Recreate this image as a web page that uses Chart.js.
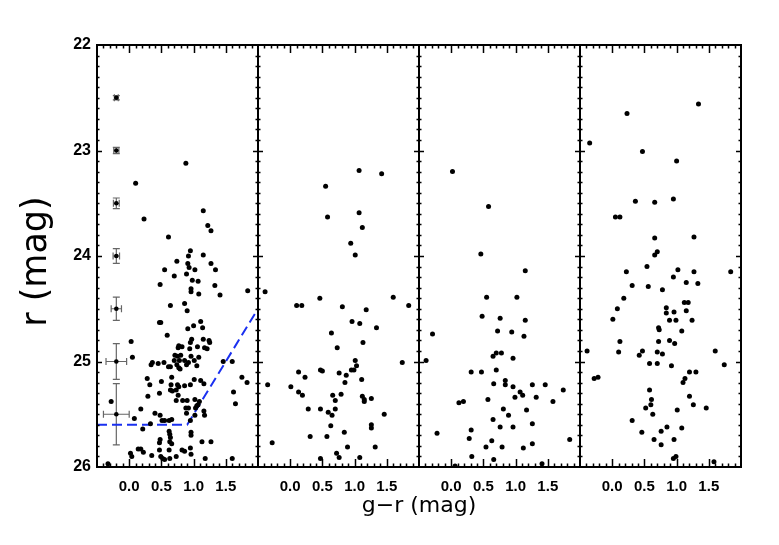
<!DOCTYPE html>
<html>
<head>
<meta charset="utf-8">
<script src="https://cdn.jsdelivr.net/npm/chart.js@4.4.1/dist/chart.umd.min.js"></script>
<style>
    body { margin: 0; background: #fff; }
    canvas { display: block; }
</style>
</head>
<body>
<canvas id="chart" width="779" height="545"></canvas>
<script>
// colour range shown in every panel, and its tick labels
const GR_MIN = -0.5
const GR_MAX = 2.0
const GR_TICKS = [0.0, 0.5, 1.0, 1.5]
const GR_TICK_LABELS = ['0.0', '0.5', '1.0', '1.5']
const R_TICKS = [22, 23, 24, 25, 26]

// panel 1
const P1_GR = [0.88,0.10,1.15,0.23,1.22,1.27,0.61,0.95,0.92,1.15,
    0.74,0.91,1.27,0.55,0.93,1.02,1.34,0.89,0.70,0.98,
    1.07,0.48,1.33,0.96,0.96,1.08,1.41,1.84,0.64,0.86,
    0.90,1.11,0.47,0.49,0.91,1.00,1.14,0.59,0.03,0.97,
    1.15,1.24,1.25,0.95,0.77,0.82,0.76,1.06,0.94,1.17,
    1.21,0.05,0.71,0.75,0.80,0.96,1.08,0.70,0.78,0.86,
    1.01,0.36,0.34,0.45,0.54,0.61,0.64,0.74,0.77,0.79,
    0.89,0.92,1.05,1.46,1.60,0.28,0.32,0.50,0.66,0.65,
    0.75,0.77,0.86,0.95,1.01,1.11,1.16,0.64,0.67,0.73,
    0.47,0.29,0.76,1.75,1.83,1.62,1.65,-0.28,0.73,0.83,
    0.90,1.02,1.09,1.07,0.88,0.92,1.03,1.05,1.16,0.18,
    0.89,1.02,1.17,0.40,0.48,0.08,0.51,0.55,0.62,0.66,
    0.95,0.33,0.21,0.62,0.96,0.96,0.63,0.64,0.48,0.47,
    0.63,0.66,1.13,1.27,0.95,0.14,0.18,0.22,0.47,0.62,
    0.82,0.86,0.02,0.04,0.35,0.49,0.73,0.96,0.63,0.52,
    0.55,1.18,1.60,-0.33]
const P1_R = [23.12,23.31,23.57,23.65,23.71,23.76,23.82,23.95,24.00,23.99,
    24.05,24.07,24.07,24.13,24.11,24.13,24.13,24.17,24.19,24.23,
    24.24,24.27,24.28,24.31,24.34,24.36,24.37,24.33,24.47,24.45,
    24.52,24.62,24.63,24.63,24.69,24.66,24.68,24.75,24.81,24.79,
    24.79,24.80,24.82,24.82,24.85,24.86,24.87,24.86,24.88,24.87,
    24.88,24.96,24.94,24.95,24.94,24.95,24.96,24.99,24.99,24.99,
    24.99,25.01,25.03,25.02,25.01,25.05,25.05,25.03,25.06,25.07,
    25.03,25.01,25.04,25.00,25.00,25.16,25.22,25.19,25.15,25.22,
    25.22,25.24,25.23,25.22,25.17,25.18,25.21,25.27,25.28,25.27,
    25.30,25.33,25.32,25.15,25.20,25.29,25.40,25.38,25.37,25.37,
    25.37,25.36,25.38,25.41,25.44,25.44,25.44,25.42,25.47,25.45,
    25.49,25.51,25.51,25.49,25.51,25.54,25.56,25.56,25.56,25.55,
    25.56,25.59,25.64,25.66,25.67,25.70,25.69,25.72,25.74,25.77,
    25.76,25.78,25.76,25.76,25.82,25.83,25.83,25.86,25.84,25.84,
    25.84,25.85,25.87,25.90,25.89,25.90,25.90,25.88,25.92,25.92,
    25.93,25.92,25.92,25.97]

// panel 2
const P2_GR = [1.07,1.42,0.55,1.07,0.58,1.12,0.94,1.01,-0.39,0.46,
    0.10,0.18,0.81,1.18,1.60,1.84,0.96,1.08,1.34,0.64,
    1.13,0.73,1.01,1.03,0.95,0.99,1.74,0.47,0.13,0.23,
    0.76,0.87,1.11,0.85,-0.35,0.01,0.13,0.19,0.66,0.79,
    0.70,1.12,1.15,1.15,1.26,0.28,0.47,0.59,0.70,0.65,
    1.46,0.63,1.26,1.26,0.84,-0.28,0.31,0.57,0.89,1.32,
    0.72,0.76,0.47,1.08,0.50]
const P2_R = [23.19,23.22,23.34,23.59,23.63,23.73,23.88,23.99,24.34,24.40,
    24.47,24.47,24.48,24.51,24.39,24.47,24.62,24.64,24.68,24.73,
    24.82,24.87,24.99,25.04,25.08,25.08,25.01,25.08,25.10,25.15,
    25.11,25.13,25.17,25.20,25.22,25.24,25.29,25.32,25.32,25.31,
    25.37,25.33,25.36,25.38,25.35,25.45,25.45,25.48,25.45,25.51,
    25.50,25.61,25.60,25.63,25.67,25.77,25.71,25.71,25.81,25.81,
    25.87,25.91,25.92,25.91,25.09]

// panel 3
const P3_GR = [0.02,0.58,0.46,1.15,0.55,1.02,0.48,0.76,1.15,-0.29,
    0.72,0.94,1.13,0.65,0.70,0.78,0.96,-0.39,0.31,0.47,
    0.70,0.84,0.84,0.66,0.96,1.07,1.11,1.26,1.46,1.74,
    0.99,1.32,0.57,0.12,0.19,1.58,0.81,1.17,0.89,0.65,
    1.26,0.76,0.96,-0.22,0.31,0.28,0.63,1.84,0.54,0.79,
    1.12,1.26,0.32,0.66,0.06,1.41]
const P3_R = [23.20,23.53,23.98,24.14,24.39,24.39,24.57,24.59,24.61,24.74,
    24.71,24.72,24.76,24.95,24.92,24.92,24.97,24.99,25.10,25.10,
    25.08,25.18,25.22,25.21,25.24,25.29,25.32,25.22,25.22,25.27,
    25.34,25.34,25.36,25.39,25.38,25.38,25.45,25.46,25.51,25.55,
    25.59,25.62,25.62,25.68,25.65,25.73,25.75,25.74,25.81,25.81,
    25.82,25.78,25.90,25.93,25.99,25.97]

// panel 4
const P4_GR = [1.34,0.23,-0.35,0.47,1.00,0.36,0.66,0.95,0.05,0.12,
    0.66,1.27,0.70,0.66,0.54,0.22,1.02,1.27,1.84,0.95,
    0.31,0.56,1.15,1.33,0.78,0.18,0.08,0.84,0.84,0.96,
    1.12,1.18,1.15,0.89,0.99,1.24,0.01,0.72,0.73,1.08,
    0.12,0.72,0.89,0.97,-0.39,0.10,0.47,0.42,0.70,0.78,
    1.60,0.58,0.70,0.92,1.74,-0.28,-0.22,1.20,1.30,1.13,
    1.10,0.58,0.61,0.60,0.52,1.20,1.26,1.46,1.01,0.63,
    0.31,1.08,0.85,0.76,0.46,0.65,0.96,0.76,0.95,0.99,
    1.58]
const P4_R = [22.56,22.65,22.93,23.01,23.10,23.48,23.49,23.46,23.63,23.63,
    23.83,23.82,23.96,23.99,24.10,24.15,24.13,24.15,24.15,24.20,
    24.28,24.29,24.25,24.26,24.32,24.40,24.50,24.49,24.54,24.53,
    24.44,24.44,24.52,24.61,24.61,24.61,24.60,24.68,24.70,24.71,
    24.81,24.81,24.80,24.83,24.90,24.91,24.90,24.94,24.91,24.93,
    24.90,25.02,25.02,25.04,25.03,25.16,25.15,25.10,25.10,25.16,
    25.20,25.27,25.36,25.41,25.44,25.33,25.41,25.44,25.46,25.50,
    25.56,25.63,25.62,25.66,25.67,25.74,25.74,25.79,25.92,25.90,
    25.95]

// typical errors, shown in panel 1
const ERR_GR = [-0.2, -0.2, -0.2, -0.2, -0.2, -0.2, -0.2]
const ERR_R = [22.5, 23.0, 23.5, 24.0, 24.5, 25.0, 25.5]
const ERR_DGR = [0.03, 0.04, 0.045, 0.05, 0.08, 0.16, 0.2]
const ERR_DR = [0.02, 0.03, 0.05, 0.07, 0.11, 0.17, 0.29]

// selection cut, panel 1
const CUT_GR = [-0.5, 0.9, 2.0]
const CUT_R = [25.6, 25.6, 24.5]

const PANELS = [[P1_GR, P1_R], [P2_GR, P2_R], [P3_GR, P3_R], [P4_GR, P4_R]]
const PANEL_W = GR_MAX - GR_MIN

// one shared x scale, each panel gets its own stretch of it
function toX(gr, panel) {
    return panel * PANEL_W + gr - GR_MIN
}

const errorBars = {
    id: 'errorBars',
    beforeDatasetsDraw(chart) {
        const {ctx, scales: {x, y}} = chart
        ctx.save()
        ctx.strokeStyle = '#666'
        ctx.lineWidth = 1.2
        const cap = 3.5
        for (let i = 0; i < ERR_R.length; i++) {
            const cx = x.getPixelForValue(toX(ERR_GR[i], 0))
            const cy = y.getPixelForValue(ERR_R[i])
            const x0 = x.getPixelForValue(toX(ERR_GR[i] - ERR_DGR[i], 0))
            const x1 = x.getPixelForValue(toX(ERR_GR[i] + ERR_DGR[i], 0))
            const y0 = y.getPixelForValue(ERR_R[i] - ERR_DR[i])
            const y1 = y.getPixelForValue(ERR_R[i] + ERR_DR[i])
            ctx.beginPath()
            ctx.moveTo(x0, cy); ctx.lineTo(x1, cy)
            ctx.moveTo(x0, cy - cap); ctx.lineTo(x0, cy + cap)
            ctx.moveTo(x1, cy - cap); ctx.lineTo(x1, cy + cap)
            ctx.moveTo(cx, y0); ctx.lineTo(cx, y1)
            ctx.moveTo(cx - cap, y0); ctx.lineTo(cx + cap, y0)
            ctx.moveTo(cx - cap, y1); ctx.lineTo(cx + cap, y1)
            ctx.stroke()
        }
        ctx.restore()
    }
}

// IDL style boxes with inward ticks on all four sides of every panel
const idlFrame = {
    id: 'idlFrame',
    afterDatasetsDraw(chart) {
        const {ctx, chartArea: a, scales: {x, y}} = chart
        ctx.save()
        ctx.strokeStyle = '#000'
        ctx.lineWidth = 1.5
        ctx.beginPath()
        for (let p = 0; p < PANELS.length; p++) {
            for (let k = -4; k < 20; k++) {
                const px = Math.round(x.getPixelForValue(toX(k / 10, p))) + 0.5
                const len = k % 5 === 0 ? 8 : 3.5
                ctx.moveTo(px, a.bottom); ctx.lineTo(px, a.bottom - len)
                ctx.moveTo(px, a.top); ctx.lineTo(px, a.top + len)
            }
            const xl = x.getPixelForValue(p * PANEL_W)
            const xr = x.getPixelForValue((p + 1) * PANEL_W)
            for (let k = 1; k < 40; k++) {
                const py = Math.round(y.getPixelForValue(22 + k / 10)) + 0.5
                const len = k % 10 === 0 ? 5 : 2.5
                ctx.moveTo(xl, py); ctx.lineTo(xl + len, py)
                ctx.moveTo(xr, py); ctx.lineTo(xr - len, py)
            }
        }
        ctx.stroke()
        ctx.lineWidth = 2
        ctx.strokeRect(a.left, a.top, a.width, a.height)
        ctx.beginPath()
        for (let p = 1; p < PANELS.length; p++) {
            const px = x.getPixelForValue(p * PANEL_W)
            ctx.moveTo(px, a.top); ctx.lineTo(px, a.bottom)
        }
        ctx.stroke()
        ctx.restore()
    }
}

const datasets = PANELS.map(([gr, r], p) => ({
    data: gr.map((g, i) => ({x: toX(g, p), y: r[i]})),
    backgroundColor: '#000',
    borderWidth: 0,
    pointRadius: 2.5
}))

datasets.push({
    data: ERR_GR.map((g, i) => ({x: toX(g, 0), y: ERR_R[i]})),
    backgroundColor: '#000',
    borderWidth: 0,
    pointRadius: 2.3
})

datasets.push({
    data: CUT_GR.map((g, i) => ({x: toX(g, 0), y: CUT_R[i]})),
    showLine: true,
    borderColor: '#1a30f0',
    borderWidth: 2,
    borderDash: [10, 5],
    pointRadius: 0,
    fill: false
})

const xTicks = []
for (let p = 0; p < PANELS.length; p++) {
    GR_TICKS.forEach(t => xTicks.push({value: toX(t, p)}))
}

new Chart('chart', {
    type: 'scatter',
    data: { datasets },
    plugins: [errorBars, idlFrame],
    options: {
        responsive: false,
        animation: false,
        events: [],
        layout: { padding: {left: 0, right: 38, top: 45, bottom: 0} },
        plugins: {
            legend: { display: false },
            tooltip: { enabled: false }
        },
        scales: {
            x: {
                type: 'linear',
                min: 0,
                max: PANELS.length * PANEL_W,
                grid: { display: false, drawTicks: false },
                border: { display: false },
                afterBuildTicks: s => { s.ticks = xTicks.slice() },
                afterFit: s => { s.height = 78 },
                ticks: {
                    autoSkip: false,
                    maxRotation: 0,
                    padding: 11,
                    color: '#000',
                    font: { family: 'Liberation Sans', size: 15, weight: 'bold' },
                    callback: (v, i) => GR_TICK_LABELS[i % GR_TICKS.length]
                },
                title: {
                    display: true,
                    text: 'g\u2212r (mag)',
                    color: '#000',
                    font: { family: 'DejaVu Sans', size: 22 },
                    padding: { top: 0, bottom: 26 }
                }
            },
            y: {
                type: 'linear',
                reverse: true,
                min: 22,
                max: 26,
                grid: { display: false, drawTicks: false },
                border: { display: false },
                afterBuildTicks: s => { s.ticks = R_TICKS.map(v => ({value: v})) },
                afterFit: s => { s.width = 97 },
                ticks: {
                    padding: 6,
                    color: '#000',
                    font: { family: 'Liberation Sans', size: 16, weight: 'bold' },
                    callback: v => String(v)
                },
                title: {
                    display: true,
                    // trailing space nudges the rotated title down a little, as in the original
                    text: 'r (mag)\u00a0',
                    color: '#000',
                    font: { family: 'DejaVu Sans', size: 35 },
                    padding: { top: 16, bottom: 0 }
                }
            }
        }
    }
})
</script>
</body>
</html>
